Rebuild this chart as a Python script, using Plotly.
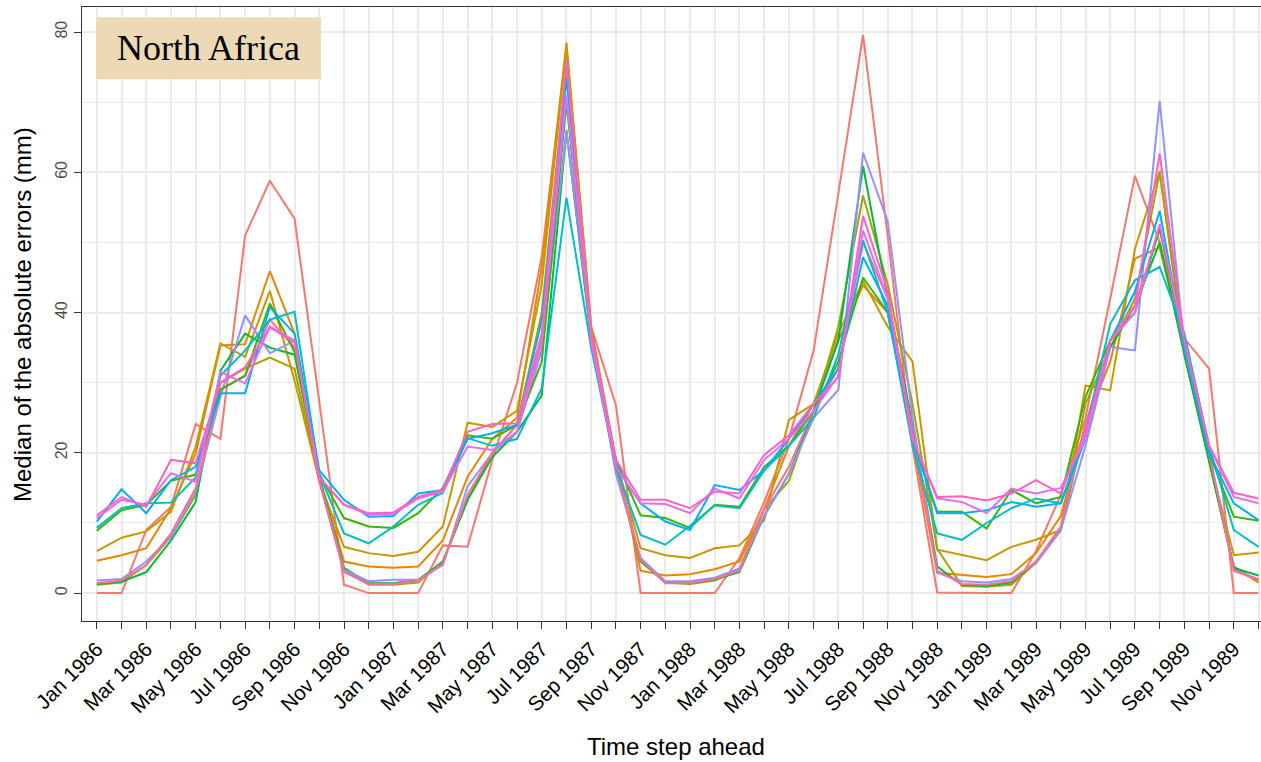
import plotly.graph_objects as go

# Monthly time steps, Jan 1986 - Dec 1989
month_abbr = ["Jan", "Feb", "Mar", "Apr", "May", "Jun",
              "Jul", "Aug", "Sep", "Oct", "Nov", "Dec"]
years = [1986, 1987, 1988, 1989]
months = [f"{m} {y}" for y in years for m in month_abbr]
# every second month carries a label
tick_labels = [lab if i % 2 == 0 else "" for i, lab in enumerate(months)]

# Median absolute error (mm) per model run
run_01 = [0, 0, 9.0, 12.3, 24.1, 22.0, 51.0, 58.8, 53.4, 27.5, 1.2, 0,
          0, 0, 6.8, 6.6, 19.0, 30.0, 48.0, 77.5, 38.0, 26.8, 0, 0,
          0, 0, 5.0, 13.0, 22.0, 34.6, 57.0, 79.6, 50.8, 20.9, 0.1, 0,
          0, 0, 6.0, 14.0, 25.0, 42.0, 59.5, 50.0, 36.3, 32.0, 0, 0]
run_02 = [4.6, 5.4, 6.4, 12.1, 19.9, 35.3, 35.5, 45.9, 37.0, 16.5, 4.5, 3.8,
          3.6, 3.8, 7.5, 16.6, 22.0, 25.0, 46.5, 78.5, 38.0, 19.0, 3.2, 2.5,
          2.7, 3.4, 4.5, 12.0, 21.0, 27.0, 36.0, 43.9, 40.0, 22.0, 2.9, 2.6,
          2.3, 2.7, 5.7, 11.0, 24.0, 33.0, 47.7, 49.3, 35.0, 19.0, 3.8, 1.5]
run_03 = [6.0, 7.9, 8.8, 11.6, 20.9, 35.6, 33.7, 43.1, 30.3, 16.0, 6.6, 5.7,
          5.3, 5.9, 9.5, 24.3, 23.7, 26.0, 44.0, 78.0, 37.0, 19.0, 6.4, 5.4,
          5.0, 6.4, 6.8, 10.4, 24.7, 27.0, 37.0, 44.5, 38.0, 33.0, 6.2, 5.4,
          4.7, 6.6, 7.6, 9.0, 29.6, 28.9, 49.1, 60.2, 34.0, 19.0, 5.4, 5.8]
run_04 = [1.2, 1.5, 4.0, 8.0, 14.0, 30.0, 32.0, 33.6, 32.0, 16.0, 3.2, 1.2,
          1.2, 1.5, 4.5, 13.3, 20.0, 24.0, 40.0, 75.0, 36.0, 18.0, 4.5, 1.5,
          1.3, 1.8, 3.5, 12.0, 16.0, 26.0, 38.0, 56.7, 44.0, 27.0, 6.3, 1.0,
          0.9, 1.2, 4.3, 9.0, 27.0, 35.0, 42.0, 60.0, 35.0, 19.0, 3.5, 1.8]
run_05 = [8.9, 11.8, 12.6, 16.0, 16.9, 29.0, 31.0, 41.3, 34.4, 17.0, 10.7, 9.5,
          9.3, 11.4, 15.0, 22.5, 22.0, 24.0, 33.0, 70.0, 36.0, 19.0, 11.1, 10.7,
          9.3, 12.6, 12.3, 18.0, 21.0, 26.0, 33.0, 45.0, 40.0, 22.0, 11.6, 11.6,
          9.2, 14.7, 12.8, 13.7, 28.0, 36.0, 40.0, 52.0, 36.0, 20.0, 10.9, 10.3]
run_06 = [1.3, 1.6, 3.0, 7.5, 13.0, 31.7, 37.0, 35.0, 34.0, 16.5, 3.6, 1.4,
          1.4, 1.9, 4.5, 13.3, 19.4, 23.0, 28.2, 66.0, 36.0, 18.0, 4.6, 1.5,
          1.4, 1.9, 3.0, 11.0, 17.0, 26.0, 36.0, 60.9, 42.0, 24.0, 3.8, 1.2,
          1.0, 1.5, 4.5, 9.0, 24.0, 35.0, 41.0, 50.0, 34.0, 19.0, 3.6, 2.5]
run_07 = [9.3, 12.1, 12.8, 12.9, 16.5, 31.0, 34.6, 39.0, 40.1, 17.0, 8.5, 7.1,
          9.5, 12.6, 14.3, 22.1, 21.0, 22.0, 29.2, 56.4, 35.0, 18.0, 8.3, 6.9,
          9.6, 12.5, 12.1, 17.5, 21.0, 25.0, 34.0, 50.3, 40.0, 21.0, 8.5, 7.6,
          10.0, 12.1, 13.5, 12.8, 23.0, 38.4, 44.6, 46.5, 37.0, 21.0, 9.0, 6.6]
run_08 = [10.2, 14.8, 11.4, 16.1, 18.0, 28.5, 28.5, 40.8, 37.0, 17.5, 13.3, 10.9,
          11.0, 14.2, 14.7, 22.0, 22.8, 24.0, 38.9, 73.5, 37.0, 18.0, 12.8, 10.2,
          9.0, 15.4, 14.7, 17.5, 22.0, 27.0, 32.0, 47.9, 41.0, 22.0, 11.4, 11.4,
          11.8, 13.0, 12.3, 12.8, 22.0, 36.0, 43.0, 54.5, 35.0, 20.0, 12.8, 10.4]
run_09 = [1.8, 2.0, 4.5, 8.0, 14.5, 28.0, 39.6, 34.2, 36.0, 16.0, 3.3, 1.7,
          1.9, 1.9, 4.0, 15.2, 20.0, 23.0, 34.6, 65.9, 37.0, 17.0, 5.0, 1.7,
          1.7, 2.2, 3.5, 11.0, 17.0, 25.0, 29.0, 62.8, 53.0, 25.0, 2.9, 1.7,
          1.5, 2.0, 4.3, 9.0, 21.0, 35.1, 34.6, 70.2, 35.0, 20.0, 3.3, 2.0]
run_10 = [10.7, 13.3, 12.6, 17.1, 15.9, 31.5, 29.9, 38.0, 36.0, 16.5, 12.6, 11.2,
          11.3, 13.5, 14.5, 20.9, 20.4, 23.0, 35.6, 71.0, 36.0, 18.0, 12.8, 12.7,
          11.4, 14.9, 13.5, 19.0, 22.0, 26.0, 31.0, 51.7, 42.0, 22.0, 13.5, 13.0,
          11.4, 14.9, 14.2, 15.0, 22.0, 36.0, 40.0, 52.6, 36.0, 21.0, 13.7, 12.8]
run_11 = [11.1, 13.7, 12.3, 19.0, 18.5, 30.0, 32.2, 37.9, 35.8, 16.5, 12.6, 11.4,
          11.5, 13.7, 14.7, 23.0, 24.1, 24.2, 37.0, 76.0, 37.0, 19.0, 13.3, 13.3,
          12.1, 14.5, 14.2, 19.7, 22.5, 27.0, 30.8, 53.8, 43.0, 22.0, 13.7, 13.8,
          13.2, 14.2, 16.1, 14.2, 23.0, 36.0, 41.0, 62.7, 36.0, 21.0, 14.3, 13.5]
run_12 = [1.4, 1.8, 4.0, 8.5, 15.0, 29.0, 31.0, 39.0, 35.0, 16.0, 3.0, 1.3,
          1.3, 1.8, 4.2, 14.0, 20.0, 24.0, 36.0, 74.0, 37.0, 18.0, 4.8, 1.4,
          1.4, 2.0, 3.2, 12.0, 18.0, 26.0, 32.0, 50.0, 42.0, 23.0, 3.2, 1.3,
          1.2, 1.7, 4.5, 9.5, 24.0, 36.0, 41.0, 52.0, 35.0, 20.0, 3.2, 1.9]

runs = [run_01, run_02, run_03, run_04, run_05, run_06,
        run_07, run_08, run_09, run_10, run_11, run_12]
run_colors = ["#F8766D", "#E58700", "#C99800", "#A3A500", "#39B600", "#00BA38",
              "#00BFC4", "#00B0F6", "#9590FF", "#E76BF3", "#FF61C3", "#FF6C91"]
# draw order: pinks last so they sit on top
order = [0, 1, 2, 3, 5, 8, 11, 4, 6, 7, 9, 10]

x_pos = list(range(len(months)))

fig = go.Figure()
for k in order:
    fig.add_trace(go.Scatter(
        x=x_pos, y=runs[k], mode="lines",
        line=dict(color=run_colors[k], width=2),
        showlegend=False, hoverinfo="skip",
    ))

# ggplot-like expansion of the value axis (5 %)
all_vals = [v for r in runs for v in r]
ymin, ymax = min(all_vals), max(all_vals)
pad = 0.05 * (ymax - ymin)

grid = "#EBEBEB"
fig.update_layout(
    width=1261, height=762,
    margin=dict(l=82, r=0, t=7, b=141),
    paper_bgcolor="white", plot_bgcolor="white",
    font=dict(family="Liberation Sans, Arial, sans-serif", color="#1A1A1A"),
    xaxis=dict(
        range=[-0.6, len(months) - 1 + 0.1],
        tickmode="array", tickvals=x_pos, ticktext=tick_labels,
        tickangle=-45, tickfont=dict(size=20.5, color="#000000"),
        ticks="outside", ticklen=7, tickwidth=1.3, tickcolor="#333333",
        showgrid=True, gridcolor=grid, gridwidth=1.6,
        showline=True, linecolor="#333333", linewidth=1.3, mirror=True,
        zeroline=False,
    ),
    yaxis=dict(
        range=[ymin - pad, ymax + pad],
        tickmode="array", tickvals=[0, 20, 40, 60, 80],
        tickangle=-90, tickfont=dict(size=16, color="#4D4D4D"),
        ticks="outside", ticklen=7, tickwidth=1.3, tickcolor="#333333",
        showgrid=True, gridcolor=grid, gridwidth=1.6,
        minor=dict(tickvals=[10, 30, 50, 70], showgrid=True,
                   gridcolor=grid, gridwidth=1.0, ticks=""),
        showline=True, linecolor="#333333", linewidth=1.3, mirror=False,
        zeroline=False,
    ),
)

# axis titles
fig.add_annotation(text="Time step ahead", xref="paper", yref="paper",
                   x=0.5042, y=-0.2036, xanchor="center", yanchor="middle",
                   showarrow=False, font=dict(size=24, color="#000000"))
fig.add_annotation(text="Median of the absolute errors (mm)", xref="paper", yref="paper",
                   x=-0.0509, y=0.5, xanchor="center", yanchor="middle",
                   textangle=-90, showarrow=False, font=dict(size=24, color="#000000"))

# region label box
fig.add_shape(type="rect", xref="paper", yref="paper",
              x0=0.0119, x1=0.2027, y0=0.8823, y1=0.9832,
              fillcolor="#EDD9B6", line=dict(width=0), layer="above")
fig.add_annotation(text="North Africa", xref="paper", yref="paper",
                   x=0.1073, y=0.9328, xanchor="center", yanchor="middle",
                   showarrow=False,
                   font=dict(family="Liberation Serif, DejaVu Serif, serif", size=36, color="#000000"))

fig.write_html("out.html")
